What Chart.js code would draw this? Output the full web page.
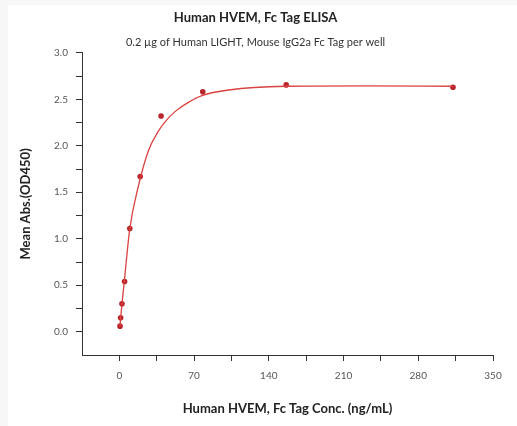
<!DOCTYPE html>
<html>
<head>
<meta charset="utf-8">
<script src="https://cdn.jsdelivr.net/npm/chart.js@4/dist/chart.umd.min.js"></script>
<style>
  html, body { margin: 0; padding: 0; background: #f7f7f7; }
  #box { width: 517px; height: 426px; }
</style>
</head>
<body>
<div id="box"><canvas id="elisa" width="517" height="426"></canvas></div>
<script>
// measured points (ng/mL vs OD450)
const concentrations = [0.61, 1.22, 2.44, 4.88, 9.77, 19.53, 39.06, 78.13, 156.25, 312.5];
const meanAbs = [0.06, 0.15, 0.30, 0.54, 1.11, 1.67, 2.32, 2.58, 2.655, 2.63];

// fitted curve
const fitX = [0.61, 1.22, 2.44, 4.88, 9.77, 17.9, 27.3, 36.7, 43, 52.4, 65, 77.4, 102.5, 156, 230, 312.5];
const fitY = [0.06, 0.15, 0.30, 0.57, 1.11, 1.57, 1.95, 2.16, 2.26, 2.37, 2.47, 2.54, 2.60, 2.64, 2.645, 2.64];

const xTicks = [0, 70, 140, 210, 280, 350];
const yTicks = [0.0, 0.5, 1.0, 1.5, 2.0, 2.5, 3.0];

const toXY = (xs, ys) => xs.map((x, i) => ({ x: x, y: ys[i] }));

const frame = {
    id: "frame",
    beforeDraw(chart) {
        const c = chart.ctx;
        c.save();
        c.fillStyle = "#f7f7f7";
        c.fillRect(0, 0, chart.width, chart.height);
        c.fillStyle = "#ffffff";
        c.fillRect(8, 5, chart.width - 8, chart.height - 5);
        c.restore();
    }
};

const font = "Lato, 'Open Sans', sans-serif";

new Chart(document.getElementById("elisa"), {
    type: "scatter",
    data: {
        datasets: [
            {
                label: "fit",
                data: toXY(fitX, fitY),
                showLine: true,
                borderColor: "#d9423f",
                borderWidth: 1.3,
                pointRadius: 0,
                cubicInterpolationMode: "monotone",
                fill: false
            },
            {
                label: "mean",
                data: toXY(concentrations, meanAbs),
                showLine: false,
                pointStyle: "circle",
                pointRadius: 2.8,
                backgroundColor: "#b8252b",
                borderColor: "#b8252b",
                borderWidth: 0
            }
        ]
    },
    options: {
        responsive: false,
        animation: false,
        layout: { padding: { left: 18, right: 24, top: 0, bottom: 9 } },
        plugins: {
            legend: { display: false },
            tooltip: { enabled: false },
            title: {
                display: true,
                text: "Human HVEM, Fc Tag ELISA",
                color: "#222",
                font: { family: font, size: 13, weight: "bold" },
                padding: { top: 10, bottom: 10 }
            },
            subtitle: {
                display: true,
                text: "0.2 \u00b5g of Human LIGHT, Mouse IgG2a Fc Tag per well",
                color: "#333",
                font: { family: font, size: 11 },
                padding: { top: 0, bottom: 4 }
            }
        },
        scales: {
            x: {
                type: "linear",
                min: -35,
                max: 350,
                afterBuildTicks(axis) {
                    const t = [];
                    for (let v = -35; v <= 350; v += 35) t.push({ value: v });
                    axis.ticks = t;
                },
                afterFit(axis) { axis.height = 62; },
                border: { display: true, color: "#333", width: 1 },
                grid: {
                    drawOnChartArea: false,
                    drawTicks: true,
                    tickLength: 6,
                    tickColor: ctx => (ctx.tick && ctx.tick.value < 0) ? "rgba(0,0,0,0)" : "#333"
                },
                ticks: {
                    autoSkip: false,
                    maxRotation: 0,
                    padding: 9,
                    color: "#555",
                    font: { family: font, size: 10 },
                    callback: v => xTicks.includes(v) ? String(v) : ""
                },
                title: {
                    display: true,
                    text: "Human HVEM, Fc Tag Conc. (ng/mL)",
                    color: "#222",
                    font: { family: font, size: 13, weight: "bold" },
                    padding: { top: 8, bottom: 0 }
                }
            },
            y: {
                type: "linear",
                min: -0.25,
                max: 3.0,
                afterBuildTicks(axis) {
                    const t = [];
                    for (let i = -1; i <= 12; i++) t.push({ value: i * 0.25 });
                    axis.ticks = t;
                },
                afterFit(axis) { axis.width = 64; },
                border: { display: true, color: "#333", width: 1 },
                grid: {
                    drawOnChartArea: false,
                    drawTicks: true,
                    tickLength: 6,
                    tickColor: ctx => (ctx.tick && ctx.tick.value < 0) ? "rgba(0,0,0,0)" : "#333"
                },
                ticks: {
                    autoSkip: false,
                    padding: 8,
                    color: "#555",
                    font: { family: font, size: 10 },
                    callback: v => yTicks.some(t => Math.abs(t - v) < 1e-9) ? v.toFixed(1) : ""
                },
                title: {
                    display: true,
                    text: "Mean Abs.(OD450)",
                    color: "#222",
                    font: { family: font, size: 13, weight: "bold" },
                    padding: { top: 0, bottom: 6 }
                }
            }
        }
    },
    plugins: [frame]
});
</script>
</body>
</html>
